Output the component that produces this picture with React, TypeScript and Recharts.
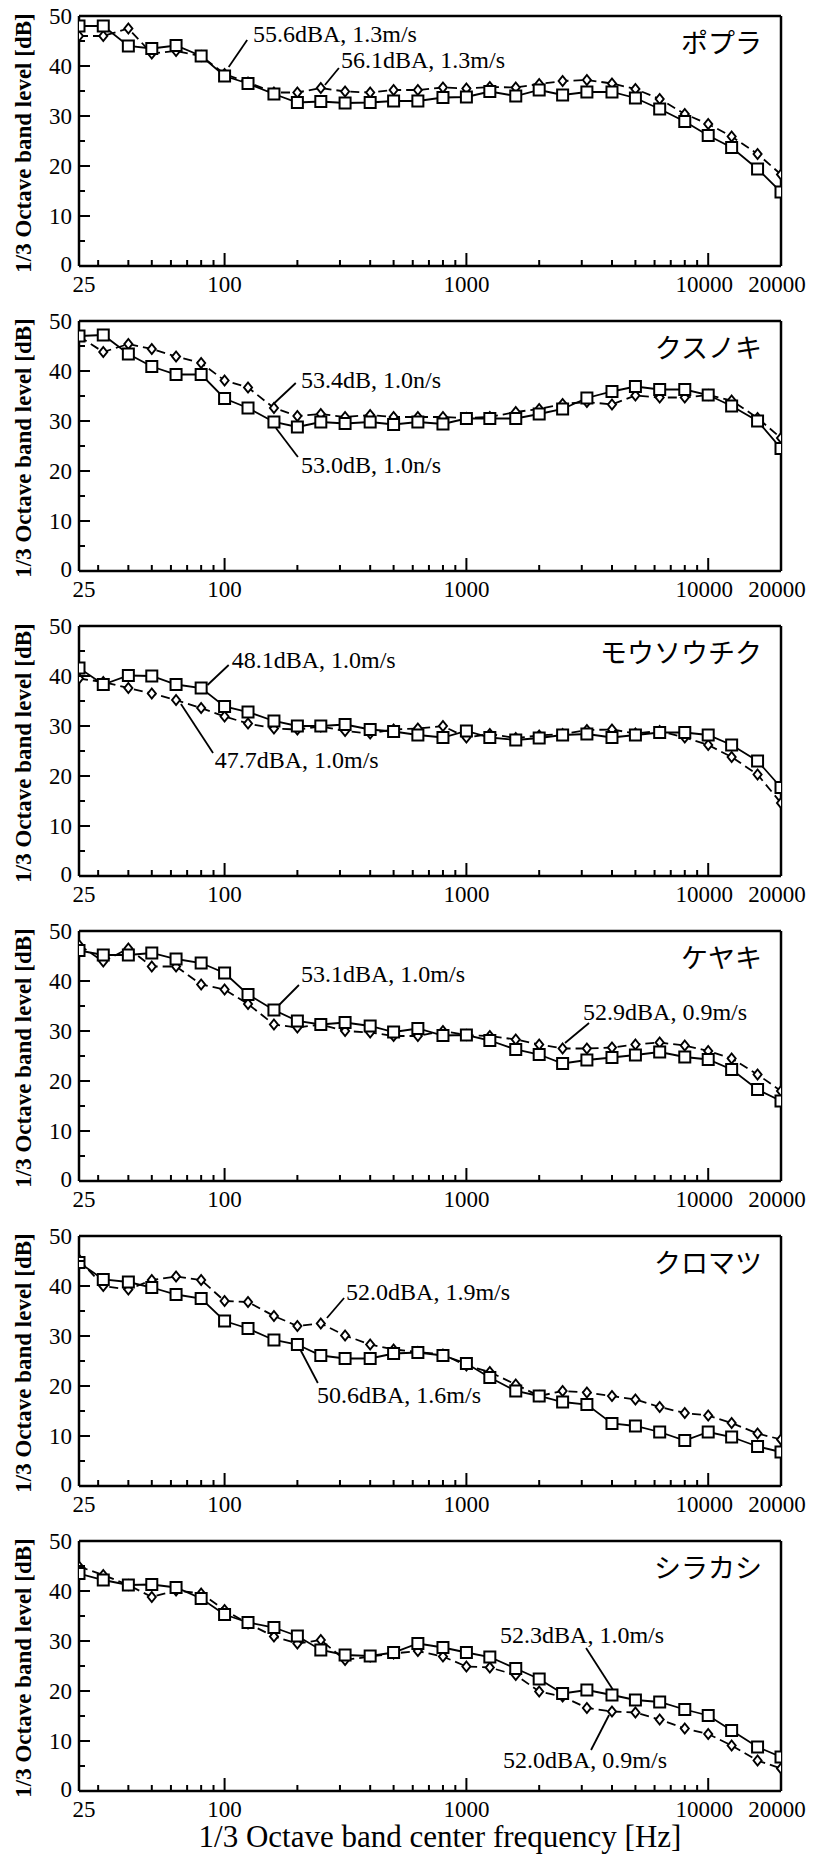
import React from "react";
import { LineChart, Line, XAxis, YAxis, ReferenceLine, ReferenceDot } from "recharts";

const SERIF = '"Liberation Serif", "Times New Roman", serif';
const JP = '"Noto Sans CJK JP", sans-serif';

// 1/3 octave band centre frequencies [Hz]
const FREQS = [25, 31.5, 40, 50, 63, 80, 100, 125, 160, 200, 250, 315, 400, 500, 630, 800, 1000, 1250, 1600, 2000, 2500, 3150, 4000, 5000, 6300, 8000, 10000, 12500, 16000, 20000];

const X_TICKS = [25, 30, 40, 50, 60, 70, 80, 90, 100, 200, 300, 400, 500, 600, 700, 800, 900, 1000, 2000, 3000, 4000, 5000, 6000, 7000, 8000, 9000, 10000, 20000];
const X_LABELS = [25, 100, 1000, 10000, 20000];
const X_MAJOR = [100, 1000, 10000];
const Y_TICKS = [0, 5, 10, 15, 20, 25, 30, 35, 40, 45, 50];
const Y_LABELS = [0, 10, 20, 30, 40, 50];

// squares = solid line, diamonds = dashed line
const POPLAR_SQ = [48.0, 48.0, 44.0, 43.5, 44.1, 42.0, 38.0, 36.5, 34.4, 32.7, 32.9, 32.6, 32.7, 33.0, 33.0, 33.7, 33.8, 34.9, 34.0, 35.2, 34.2, 34.8, 34.8, 33.6, 31.4, 28.9, 26.1, 23.7, 19.4, 14.8];
const POPLAR_DM = [46.0, 46.0, 47.5, 42.5, 43.0, 42.0, 38.4, 36.7, 34.7, 34.7, 35.6, 34.9, 34.7, 35.2, 35.2, 35.7, 35.5, 35.8, 35.7, 36.4, 37.0, 37.2, 36.5, 35.4, 33.4, 30.4, 28.4, 25.9, 22.4, 18.3];

const KUSUNOKI_SQ = [47.0, 47.2, 43.4, 40.9, 39.3, 39.3, 34.5, 32.6, 29.8, 28.8, 29.8, 29.5, 29.8, 29.3, 29.8, 29.4, 30.5, 30.5, 30.5, 31.4, 32.4, 34.6, 35.9, 36.9, 36.3, 36.3, 35.2, 33.0, 30.0, 24.5];
const KUSUNOKI_DM = [46.9, 43.8, 45.4, 44.4, 42.9, 41.6, 38.1, 36.7, 32.6, 31.0, 31.4, 30.8, 31.2, 30.8, 30.8, 30.8, 30.6, 30.8, 31.8, 32.4, 33.4, 33.8, 33.3, 35.1, 34.7, 34.7, 35.2, 34.1, 30.6, 26.6];

const MOSO_SQ = [41.6, 38.3, 40.1, 40.0, 38.3, 37.6, 33.9, 32.8, 31.0, 30.0, 30.0, 30.3, 29.3, 28.9, 28.2, 27.7, 29.0, 27.7, 27.2, 27.6, 28.2, 28.4, 27.7, 28.2, 28.7, 28.7, 28.2, 26.2, 23.0, 17.7];
const MOSO_DM = [39.5, 38.8, 37.6, 36.5, 35.2, 33.6, 31.9, 30.5, 29.5, 29.3, 29.9, 29.0, 28.5, 29.3, 29.5, 30.0, 27.7, 28.4, 27.6, 28.1, 28.4, 29.2, 29.3, 28.5, 29.0, 27.7, 26.2, 23.8, 20.3, 14.6];

const KEYAKI_SQ = [46.1, 45.2, 45.2, 45.6, 44.4, 43.6, 41.6, 37.3, 34.2, 32.0, 31.3, 31.7, 31.0, 29.8, 30.5, 29.1, 29.2, 28.1, 26.3, 25.3, 23.5, 24.2, 24.7, 25.2, 25.8, 24.8, 24.3, 22.3, 18.3, 16.0];
const KEYAKI_DM = [47.2, 43.9, 46.5, 42.9, 42.9, 39.3, 38.3, 35.4, 31.3, 30.7, 31.3, 30.0, 29.7, 29.0, 29.0, 30.0, 29.2, 29.0, 28.3, 27.3, 26.5, 26.5, 26.7, 27.3, 27.7, 27.1, 26.0, 24.5, 21.3, 18.0];

const KUROMATSU_SQ = [44.7, 41.3, 40.8, 39.7, 38.3, 37.5, 33.0, 31.5, 29.2, 28.3, 26.1, 25.5, 25.5, 26.5, 26.7, 26.1, 24.5, 21.7, 19.0, 18.0, 16.8, 16.3, 12.5, 12.0, 10.8, 9.1, 10.8, 9.8, 7.9, 6.8];
const KUROMATSU_DM = [45.3, 40.0, 39.3, 41.2, 41.9, 41.2, 37.0, 36.8, 34.0, 32.0, 32.5, 30.1, 28.3, 27.3, 26.8, 26.3, 24.1, 22.8, 20.3, 18.0, 19.0, 18.7, 18.0, 17.3, 15.8, 14.6, 14.1, 12.6, 10.5, 9.3];

const SHIRAKASHI_SQ = [43.5, 42.2, 41.2, 41.3, 40.7, 38.5, 35.3, 33.7, 32.7, 31.0, 28.2, 27.2, 27.0, 27.7, 29.5, 28.7, 27.7, 26.8, 24.5, 22.4, 19.5, 20.2, 19.2, 18.2, 17.8, 16.3, 15.1, 12.1, 8.8, 6.8];
const SHIRAKASHI_DM = [44.9, 43.2, 41.2, 38.8, 40.1, 39.5, 36.2, 33.5, 30.9, 29.5, 30.2, 26.2, 26.9, 27.5, 28.0, 26.9, 24.9, 24.7, 23.2, 19.9, 18.9, 16.6, 15.9, 15.7, 14.3, 12.5, 11.4, 9.1, 6.1, 4.5];

// annotation: text baseline-left at [Hz, dB], leader line from -> to
const POPLAR_NOTES = [
  { text: "55.6dBA, 1.3m/s", at: [131, 44.8], from: [104, 39.8], to: [124, 45.2] },
  { text: "56.1dBA, 1.3m/s", at: [303, 39.6], from: [260, 36.2], to: [297, 39.6] },
];
const KUSUNOKI_NOTES = [
  { text: "53.4dB, 1.0n/s", at: [207, 36.6], from: [160, 33.5], to: [197, 37.6] },
  { text: "53.0dB, 1.0n/s", at: [207, 19.6], from: [163, 28.6], to: [201, 22.8] },
];
const MOSO_NOTES = [
  { text: "48.1dBA, 1.0m/s", at: [107, 41.6], from: [85, 38.2], to: [104, 42.2] },
  { text: "47.7dBA, 1.0m/s", at: [91, 21.6], from: [66, 34.4], to: [89.6, 24.6] },
];
const KEYAKI_NOTES = [
  { text: "53.1dBA, 1.0m/s", at: [207, 39.8], from: [168, 35.2], to: [203, 39.2] },
  { text: "52.9dBA, 0.9m/s", at: [3037, 32.2], from: [2558, 27.6], to: [3215, 31.6] },
];
const KUROMATSU_NOTES = [
  { text: "52.0dBA, 1.9m/s", at: [318, 37.2], from: [265, 33.6], to: [312, 37.6] },
  { text: "50.6dBA, 1.6m/s", at: [241, 16.6], from: [203, 27.8], to: [243, 20.6] },
];
const SHIRAKASHI_NOTES = [
  { text: "52.3dBA, 1.0m/s", at: [1378, 29.6], from: [3125, 28.6], to: [4118, 19.6] },
  { text: "52.0dBA, 0.9m/s", at: [1417, 4.6], from: [3890, 15.2], to: [3277, 8.2] },
];

const PANELS = [
  { name: "ポプラ", sq: POPLAR_SQ, dm: POPLAR_DM, notes: POPLAR_NOTES },
  { name: "クスノキ", sq: KUSUNOKI_SQ, dm: KUSUNOKI_DM, notes: KUSUNOKI_NOTES },
  { name: "モウソウチク", sq: MOSO_SQ, dm: MOSO_DM, notes: MOSO_NOTES },
  { name: "ケヤキ", sq: KEYAKI_SQ, dm: KEYAKI_DM, notes: KEYAKI_NOTES },
  { name: "クロマツ", sq: KUROMATSU_SQ, dm: KUROMATSU_DM, notes: KUROMATSU_NOTES },
  { name: "シラカシ", sq: SHIRAKASHI_SQ, dm: SHIRAKASHI_DM, notes: SHIRAKASHI_NOTES },
];

const W = 813;
const TOTAL_H = 1864;
const PANEL_H = 305;
const PLOT_TOP = 16;
const PLOT_H = 250;
const AXIS_W = 79;
const RIGHT = 32;
const X_GAP = 10;
const Y_GAP = 7;

// small horizontal nudges of the end labels, as in the original figure
function labelShift(v: number) {
  if (v === 25) return 5;
  if (v === 10000 || v === 20000) return -4;
  return 0;
}

// eslint-disable-next-line @typescript-eslint/no-explicit-any
function FreqTick(props: any) {
  const { x, y, payload } = props;
  const v = payload.value;
  const axisY = y - X_GAP;
  const len = X_MAJOR.includes(v) ? 13 : 6;
  return (
    <g>
      {v !== 25 && v !== 20000 && (
        <line x1={x} x2={x} y1={axisY} y2={axisY - len} stroke="#000" strokeWidth={2} />
      )}
      {X_LABELS.includes(v) && (
        <text x={x + labelShift(v)} y={axisY + 26} textAnchor="middle" fontFamily={SERIF} fontSize={23} fill="#000">{v}</text>
      )}
    </g>
  );
}

// eslint-disable-next-line @typescript-eslint/no-explicit-any
function LevelTick(props: any) {
  const { x, y, payload } = props;
  const v = payload.value;
  const axisX = x + Y_GAP;
  const major = Y_LABELS.includes(v);
  return (
    <g>
      {v > 0 && v < 50 && (
        <line x1={axisX} x2={axisX + (major ? 11 : 6)} y1={y} y2={y} stroke="#000" strokeWidth={2} />
      )}
      {major && (
        <text x={axisX - 7} y={y + (v === 0 ? 6 : 8)} textAnchor="end" fontFamily={SERIF} fontSize={23} fill="#000">{v}</text>
      )}
    </g>
  );
}

// eslint-disable-next-line @typescript-eslint/no-explicit-any
function SquareDot(props: any) {
  const { cx, cy } = props;
  if (cx == null || cy == null) return null;
  return <rect x={cx - 5.5} y={cy - 5.5} width={11} height={11} fill="#fff" stroke="#000" strokeWidth={2} />;
}

// eslint-disable-next-line @typescript-eslint/no-explicit-any
function DiamondDot(props: any) {
  const { cx, cy } = props;
  if (cx == null || cy == null) return null;
  return (
    <polygon
      points={`${cx},${cy - 5} ${cx + 4},${cy} ${cx},${cy + 5} ${cx - 4},${cy}`}
      fill="#fff" stroke="#000" strokeWidth={2}
    />
  );
}

// eslint-disable-next-line @typescript-eslint/no-explicit-any
function YTitle(props: any) {
  const vb = props.viewBox;
  if (!vb) return null;
  const cy = vb.y + vb.height / 2 + 2;
  return (
    <text transform={`translate(31,${cy}) rotate(-90)`} textAnchor="middle" fontFamily={SERIF} fontWeight="bold" fontSize={23} fill="#000">
      1/3 Octave band level [dB]
    </text>
  );
}

// eslint-disable-next-line @typescript-eslint/no-explicit-any
function XTitle(props: any) {
  const vb = props.viewBox;
  if (!vb) return null;
  return (
    <text x={vb.x + vb.width / 2 + 10} y={vb.y + 56} textAnchor="middle" fontFamily={SERIF} fontSize={31} fill="#000">
      1/3 Octave band center frequency [Hz]
    </text>
  );
}

// eslint-disable-next-line @typescript-eslint/no-explicit-any
function NameText(props: any) {
  const vb = props.viewBox;
  if (!vb) return null;
  return (
    <text x={vb.x + vb.width - 19} y={vb.y + 37} textAnchor="end" fontFamily={JP} fontSize={27} fill="#000">
      {props.text}
    </text>
  );
}

// eslint-disable-next-line @typescript-eslint/no-explicit-any
function NoteText(props: any) {
  const vb = props.viewBox;
  if (!vb) return null;
  return (
    <text x={vb.x + vb.width / 2} y={vb.y + vb.height / 2} fontFamily={SERIF} fontSize={24} fill="#000">
      {props.text}
    </text>
  );
}

// eslint-disable-next-line @typescript-eslint/no-explicit-any
function Panel({ panel, last }: any) {
  const rows = FREQS.map((f, i) => ({ f, sq: panel.sq[i], dm: panel.dm[i] }));
  const h = last ? TOTAL_H - PANEL_H * (PANELS.length - 1) : PANEL_H;
  const axisStyle = { stroke: "#000", strokeWidth: 2.5 };
  return (
    <LineChart width={W} height={h} data={rows} margin={{ top: PLOT_TOP, right: RIGHT, bottom: 0, left: 0 }}>
      <XAxis
        dataKey="f"
        type="number"
        scale="log"
        domain={[25, 20000]}
        allowDataOverflow
        ticks={X_TICKS}
        interval={0}
        tick={<FreqTick />}
        tickSize={0}
        tickMargin={X_GAP}
        tickLine={false}
        axisLine={axisStyle}
        height={h - PLOT_TOP - PLOT_H}
        label={last ? <XTitle /> : undefined}
      />
      <YAxis
        type="number"
        domain={[0, 50]}
        ticks={Y_TICKS}
        interval={0}
        tick={<LevelTick />}
        tickSize={0}
        tickMargin={Y_GAP}
        tickLine={false}
        axisLine={axisStyle}
        width={AXIS_W}
        label={<YTitle />}
      />
      <ReferenceLine y={50} stroke="#000" strokeWidth={2.5} ifOverflow="visible" label={<NameText text={panel.name} />} />
      <ReferenceLine x={20000} stroke="#000" strokeWidth={2.5} ifOverflow="visible" />
      {/* eslint-disable-next-line @typescript-eslint/no-explicit-any */}
      {panel.notes.map((n: any) => (
        <ReferenceLine
          key={"l" + n.text}
          segment={[{ x: n.from[0], y: n.from[1] }, { x: n.to[0], y: n.to[1] }]}
          stroke="#000"
          strokeWidth={1.8}
          ifOverflow="visible"
        />
      ))}
      {/* eslint-disable-next-line @typescript-eslint/no-explicit-any */}
      {panel.notes.map((n: any) => (
        <ReferenceDot
          key={"t" + n.text}
          x={n.at[0]}
          y={n.at[1]}
          r={1}
          fill="none"
          stroke="none"
          ifOverflow="visible"
          label={<NoteText text={n.text} />}
        />
      ))}
      <Line
        type="linear"
        dataKey="dm"
        stroke="#000"
        strokeWidth={1.8}
        strokeDasharray="9 5"
        dot={<DiamondDot />}
        activeDot={false}
        isAnimationActive={false}
      />
      <Line
        type="linear"
        dataKey="sq"
        stroke="#000"
        strokeWidth={1.8}
        dot={<SquareDot />}
        activeDot={false}
        isAnimationActive={false}
      />
    </LineChart>
  );
}

export default function App() {
  return (
    <div style={{ position: "absolute", left: 0, top: 0, width: W, height: TOTAL_H, background: "#fff" }}>
      {PANELS.map((p, i) => (
        <Panel key={p.name} panel={p} last={i === PANELS.length - 1} />
      ))}
    </div>
  );
}
